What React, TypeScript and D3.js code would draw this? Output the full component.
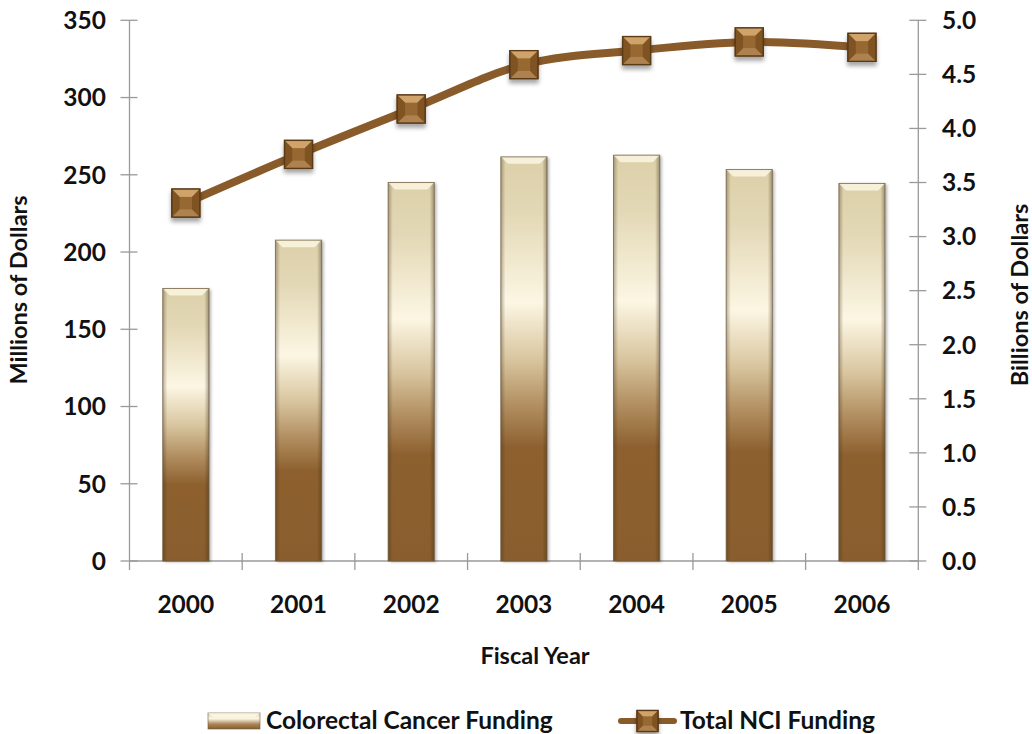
import React from "react";
import * as d3 from "d3";

const years = ["2000", "2001", "2002", "2003", "2004", "2005", "2006"];
const colorectalMillions = [176.4, 207.7, 245.0, 261.6, 262.7, 253.4, 244.4];
const totalNciBillions = [3.31, 3.76, 4.18, 4.59, 4.72, 4.8, 4.75];
const leftTicks = [0, 50, 100, 150, 200, 250, 300, 350];
const rightTicks = [0, 0.5, 1, 1.5, 2, 2.5, 3, 3.5, 4, 4.5, 5];

const W = 1032;
const H = 734;
const X0 = 129.5;
const X1 = 918.3;
const Y0 = 561;
const Y1 = 20.3;
const FONT = "Lato, 'Open Sans', sans-serif";
const LINE = "#8A5B2A";
const AXIS = "#9a9a9a";

function Marker({ cx, cy, s }: { cx: number; cy: number; s: number }) {
  const h = s / 2;
  const b = s * 0.28;
  const x0 = cx - h, x1 = cx + h, y0 = cy - h, y1 = cy + h;
  return (
    <g filter="url(#mshadow)">
      <rect x={x0} y={y0} width={s} height={s} fill="#93632E" stroke="#5a3a16" strokeWidth={1.3} />
      <polygon points={`${x0},${y0} ${x1},${y0} ${x1 - b},${y0 + b} ${x0 + b},${y0 + b}`} fill="#d9ae74" opacity={0.85} />
      <polygon points={`${x0},${y1} ${x1},${y1} ${x1 - b},${y1 - b} ${x0 + b},${y1 - b}`} fill="#b58a58" opacity={0.8} />
      <polygon points={`${x0},${y0} ${x0 + b},${y0 + b} ${x0 + b},${y1 - b} ${x0},${y1}`} fill="#7a4f22" opacity={0.8} />
      <polygon points={`${x1},${y0} ${x1 - b},${y0 + b} ${x1 - b},${y1 - b} ${x1},${y1}`} fill="#7a4f22" opacity={0.8} />
      <rect x={x0 + b} y={y0 + b} width={s - 2 * b} height={s - 2 * b} fill="#9b6a33" opacity={0.6} />
      <rect x={x0} y={y0} width={s} height={s} fill="none" stroke="#5a3a16" strokeWidth={1.3} />
    </g>
  );
}

export default function App() {
  const x = d3.scaleBand<string>().domain(years).range([X0, X1]).paddingInner(0.59).paddingOuter(0.295);
  const yL = d3.scaleLinear().domain([0, 350]).range([Y0, Y1]);
  const yR = d3.scaleLinear().domain([0, 5]).range([Y0, Y1]);
  const bw = x.bandwidth();
  const cx = (yr: string) => (x(yr) as number) + bw / 2;

  const pts: [number, number][] = years.map((yr, i) => [cx(yr), yR(totalNciBillions[i])]);
  const linePath = d3.line().curve(d3.curveCatmullRom.alpha(0))(pts) || "";

  const step = x.step();
  const boundaries = d3.range(years.length + 1).map((i) => X0 + i * step);

  return (
    <svg width={W} height={H} style={{ position: "absolute", left: 0, top: 0, display: "block", background: "#fff" }} fontFamily={FONT}>
      <defs>
        <linearGradient id="barGrad" x1="0" y1="0" x2="0" y2="1">
          <stop offset="0" stopColor="#dcd0a9" />
          <stop offset="0.14" stopColor="#e3d8b6" />
          <stop offset="0.36" stopColor="#fcf6e3" />
          <stop offset="0.5" stopColor="#d9c6a0" />
          <stop offset="0.62" stopColor="#b08c5e" />
          <stop offset="0.72" stopColor="#8d602f" />
          <stop offset="1" stopColor="#8a5d2d" />
        </linearGradient>
        <linearGradient id="barEdge" x1="0" y1="0" x2="1" y2="0">
          <stop offset="0" stopColor="#3d2c14" stopOpacity="0.35" />
          <stop offset="0.1" stopColor="#3d2c14" stopOpacity="0" />
          <stop offset="0.9" stopColor="#3d2c14" stopOpacity="0" />
          <stop offset="1" stopColor="#3d2c14" stopOpacity="0.4" />
        </linearGradient>
        <linearGradient id="legGrad" x1="0" y1="0" x2="0" y2="1">
          <stop offset="0" stopColor="#e2d6b2" />
          <stop offset="0.35" stopColor="#fcf6e3" />
          <stop offset="0.7" stopColor="#a98457" />
          <stop offset="1" stopColor="#8a5d2d" />
        </linearGradient>
        <filter id="bshadow" x="-20%" y="-5%" width="150%" height="115%">
          <feDropShadow dx="2" dy="1" stdDeviation="1.5" floodColor="#000" floodOpacity="0.3" />
        </filter>
        <filter id="mshadow" x="-40%" y="-40%" width="180%" height="190%">
          <feDropShadow dx="0" dy="4" stdDeviation="2.2" floodColor="#000" floodOpacity="0.35" />
        </filter>
      </defs>

      {/* axes */}
      <line x1={X0} y1={Y1} x2={X0} y2={570} stroke={AXIS} strokeWidth={1.3} />
      <line x1={X1} y1={Y1} x2={X1} y2={570} stroke={AXIS} strokeWidth={1.3} />
      <line x1={X0} y1={Y0} x2={X1} y2={Y0} stroke={AXIS} strokeWidth={1.3} />
      {leftTicks.map((t) => (
        <g key={"l" + t}>
          <line x1={X0 - 9} x2={X0 + 8} y1={yL(t)} y2={yL(t)} stroke={AXIS} strokeWidth={1.3} />
          <text x={106} y={yL(t)} dy="0.36em" textAnchor="end" fontSize={24.5} fontWeight={700} fill="#111">{t}</text>
        </g>
      ))}
      {rightTicks.map((t) => (
        <g key={"r" + t}>
          <line x1={X1 - 9} x2={X1 + 8} y1={yR(t)} y2={yR(t)} stroke={AXIS} strokeWidth={1.3} />
          <text x={942} y={yR(t)} dy="0.36em" textAnchor="start" fontSize={24.5} fontWeight={700} fill="#111">{t.toFixed(1)}</text>
        </g>
      ))}
      {boundaries.slice(1, -1).map((b, i) => (
        <line key={"xt" + i} x1={b} x2={b} y1={553} y2={570} stroke={AXIS} strokeWidth={1.3} />
      ))}

      {/* bars */}
      {years.map((yr, i) => {
        const bx = x(yr) as number;
        const by = yL(colorectalMillions[i]);
        const bh = Y0 - by;
        const bv = 7;
        return (
          <g key={"b" + yr}>
            <rect x={bx} y={by} width={bw} height={bh} fill="url(#barGrad)" filter="url(#bshadow)" />
            <rect x={bx} y={by} width={bw} height={bh} fill="url(#barEdge)" />
            <polygon points={`${bx},${by} ${bx + bw},${by} ${bx + bw - bv},${by + bv} ${bx + bv},${by + bv}`} fill="#fffbe9" opacity={0.75} />
            <rect x={bx} y={by} width={bw} height={bh} fill="none" stroke="#6d5b3f" strokeOpacity={0.75} strokeWidth={1} />
          </g>
        );
      })}

      {/* line */}
      <path d={linePath} fill="none" stroke={LINE} strokeWidth={8} strokeLinecap="round" strokeLinejoin="round" />
      {pts.map((p, i) => (
        <Marker key={"m" + i} cx={p[0]} cy={p[1]} s={28} />
      ))}

      {/* x labels */}
      {years.map((yr) => (
        <text key={"xl" + yr} x={cx(yr)} y={613} textAnchor="middle" fontSize={24.5} fontWeight={700} fill="#111">{yr}</text>
      ))}
      <text x={535} y={664} textAnchor="middle" fontSize={23.5} fontWeight={700} fill="#111">Fiscal Year</text>

      {/* axis titles */}
      <text transform={`translate(27,290) rotate(-90)`} textAnchor="middle" fontSize={23.5} fontWeight={700} fill="#111">Millions of Dollars</text>
      <text transform={`translate(1028,295) rotate(-90)`} textAnchor="middle" fontSize={23.5} fontWeight={700} fill="#111">Billions of Dollars</text>

      {/* legend */}
      <rect x={208} y={713} width={52} height={16} fill="url(#legGrad)" stroke="#6d5b3f" strokeOpacity={0.6} />
      <polygon points="208,713 260,713 255,717 213,717" fill="#fffbe9" opacity={0.7} />
      <text x={266} y={729} fontSize={24.5} fontWeight={700} fill="#111">Colorectal Cancer Funding</text>
      <line x1={621} x2={674} y1={721} y2={721} stroke={LINE} strokeWidth={6} strokeLinecap="round" />
      <Marker cx={647.5} cy={721} s={21} />
      <text x={680} y={729} fontSize={24.5} fontWeight={700} fill="#111">Total NCI Funding</text>
    </svg>
  );
}
